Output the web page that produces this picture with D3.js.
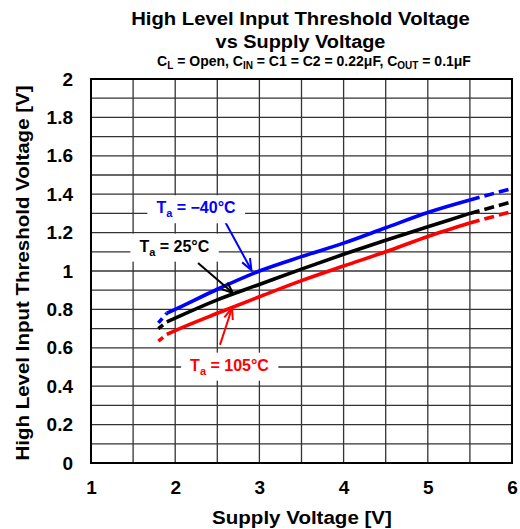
<!DOCTYPE html>
<html><head><meta charset="utf-8">
<script src="https://cdn.jsdelivr.net/npm/d3@7"></script>
<style>
html,body{margin:0;padding:0;background:#fff;}
svg text{font-family:"Liberation Sans",Arial,Helvetica,sans-serif;font-weight:bold;}
</style></head>
<body>
<svg id="chart" width="520" height="529"></svg>
<script>
// ---- data ----
const supplyV   = [1.8, 1.9, 2.0, 2.5, 3.0, 3.5, 4.0, 4.5, 5.0, 5.5, 6.0];
const vihM40    = [0.73, 0.78, 0.80, 0.905, 1.0, 1.075, 1.145, 1.225, 1.305, 1.37, 1.43];
const vih25     = [0.70, 0.735, 0.755, 0.85, 0.93, 1.01, 1.087, 1.16, 1.23, 1.30, 1.36];
const vih105    = [0.635, 0.67, 0.69, 0.78, 0.866, 0.95, 1.026, 1.10, 1.18, 1.25, 1.31];
const seriesNames  = ["-40", "25", "105"];
const seriesColors = ["#0000ff", "#000000", "#ff0000"];
const xTicks = [1, 2, 3, 4, 5, 6];
const yTicks = [0, 0.2, 0.4, 0.6, 0.8, 1, 1.2, 1.4, 1.6, 1.8, 2];
const solidFrom = 1.9, solidTo = 5.5;
// annotations in data units: label centre, arrow start, arrow tip
const labelPos  = [[2.247, 1.33], [1.99, 1.13], [2.645, 0.51]];
const arrowFrom = [[2.568, 1.276], [2.271, 1.042], [2.532, 0.615]];
const arrowTo   = [[2.905, 1.005], [2.686, 0.885], [2.675, 0.807]];

const series = [vihM40, vih25, vih105];

const svg = d3.select("#chart");
const m = {left: 91, top: 79, right: 8, bottom: 66};
const W = 520 - m.left - m.right, H = 529 - m.top - m.bottom;
const x = d3.scaleLinear().domain([1, 6]).range([0, W]);
const y = d3.scaleLinear().domain([0, 2]).range([H, 0]);
const g = svg.append("g").attr("transform", `translate(${m.left},${m.top})`);

// grid
const gridX = d3.range(1, 6.01, 0.5), gridY = d3.range(0, 2.001, 0.1);
g.append("g").selectAll("line").data(gridX).join("line")
  .attr("x1", d => x(d)).attr("x2", d => x(d)).attr("y1", 0).attr("y2", H)
  .attr("stroke", "#333").attr("stroke-width", 1.3);
g.append("g").selectAll("line").data(gridY).join("line")
  .attr("y1", d => y(d)).attr("y2", d => y(d)).attr("x1", 0).attr("x2", W)
  .attr("stroke", "#333").attr("stroke-width", 1.3);
g.append("rect").attr("width", W).attr("height", H).attr("fill", "none")
  .attr("stroke", "#000").attr("stroke-width", 2);

// axes
const xAxis = g.append("g").attr("transform", `translate(0,${H})`)
  .call(d3.axisBottom(x).tickValues(xTicks).tickFormat(d3.format("d")).tickSize(0).tickPadding(18));
const yAxis = g.append("g")
  .call(d3.axisLeft(y).tickValues(yTicks).tickFormat(d => String(+d.toFixed(1))).tickSize(0).tickPadding(18));
[xAxis, yAxis].forEach(a => { a.select(".domain").remove();
  a.selectAll("text").attr("font-size", 19).attr("fill", "#000")
   .attr("font-family", "Liberation Sans, Arial, sans-serif").attr("font-weight", "bold"); });
xAxis.selectAll("text").attr("dy", "0.71em");

// curves
const line = d3.line().x(d => x(d[0])).y(d => y(d[1])).curve(d3.curveMonotoneX);
series.forEach((vals, i) => {
  const pts = supplyV.map((v, j) => [v, vals[j]]);
  const parts = [
    {d: pts.filter(p => p[0] <= solidFrom), dash: "6,5"},
    {d: pts.filter(p => p[0] >= solidFrom && p[0] <= solidTo), dash: null},
    {d: pts.filter(p => p[0] >= solidTo), dash: "10,5"}
  ];
  parts.forEach(p => {
    g.append("path").attr("d", line(p.d)).attr("fill", "none")
      .attr("stroke", seriesColors[i]).attr("stroke-width", 3.6)
      .attr("stroke-dasharray", p.dash);
  });
});

// annotations
series.forEach((vals, i) => {
  const col = seriesColors[i];
  const [fx, fy] = arrowFrom[i], [tx, ty] = arrowTo[i];
  const x1 = x(fx), y1 = y(fy), x2 = x(tx), y2 = y(ty);
  g.append("line").attr("x1", x1).attr("y1", y1).attr("x2", x2).attr("y2", y2)
    .attr("stroke", col).attr("stroke-width", 2);
  const ang = Math.atan2(y2 - y1, x2 - x1), L = 12, A = 0.38;
  const hp = [[x2 - L*Math.cos(ang - A), y2 - L*Math.sin(ang - A)], [x2, y2],
              [x2 - L*Math.cos(ang + A), y2 - L*Math.sin(ang + A)]];
  g.append("path").attr("d", d3.line()(hp)).attr("fill", "none")
    .attr("stroke", col).attr("stroke-width", 2);

  const lg = g.append("g");
  const t = lg.append("text").attr("x", x(labelPos[i][0])).attr("y", y(labelPos[i][1]))
    .attr("text-anchor", "middle").attr("dy", "0.35em").attr("fill", col).attr("font-size", 16);
  t.append("tspan").text("T");
  t.append("tspan").text("a").attr("font-size", 11).attr("dy", 4);
  t.append("tspan").text(" = " + (seriesNames[i].startsWith("-") ? "\u2212" + seriesNames[i].slice(1) : seriesNames[i]) + "°C").attr("dy", -4);
  const bb = t.node().getBBox();
  lg.insert("rect", "text").attr("x", bb.x - 9).attr("y", bb.y - 4)
    .attr("width", bb.width + 18).attr("height", bb.height + 8).attr("fill", "#fff");
});

// titles: stretch horizontally to the reference widths
function stretched(parent, cxp, cyp, size, txt, width, rotate) {
  const gg = parent.append("g");
  const t = gg.append("text").attr("x", 0).attr("y", 0).attr("text-anchor", "middle")
    .attr("font-size", size).text(txt);
  const w = t.node().getComputedTextLength();
  const s = width / w;
  gg.attr("transform", `translate(${cxp},${cyp})${rotate ? " rotate(-90)" : ""} scale(${s},1)`);
  return t;
}
stretched(svg, 300.5, 25, 19, "High Level Input Threshold Voltage", 339);
stretched(svg, 300.5, 48, 19, "vs Supply Voltage", 170);
const sub = svg.append("text").attr("x", 314).attr("y", 66).attr("text-anchor", "middle").attr("font-size", 14);
const subParts = [["C",""],["L","s"],[" = Open, C",""],["IN","s"],[" = C1 = C2 = 0.22μF, C",""],["OUT","s"],[" = 0.1μF",""]];
let prevSub = false;
subParts.forEach(([txt, s]) => {
  const ts = sub.append("tspan").text(txt);
  if (s) { ts.attr("font-size", 10).attr("dy", 3); prevSub = true; }
  else if (prevSub) { ts.attr("dy", -3); prevSub = false; }
});
stretched(svg, 302, 524, 19, "Supply Voltage [V]", 180);
stretched(svg, 29, m.top + H/2 + 2, 19, "High Level Input Threshold Voltage [V]", 375, true);
</script>
</body></html>
